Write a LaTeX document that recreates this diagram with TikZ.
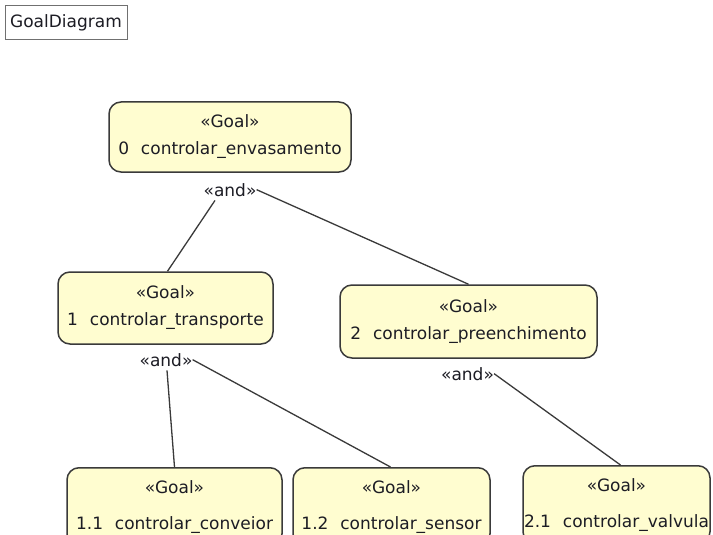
\documentclass[tikz,border=0pt]{standalone}
\usepackage{fontspec}
\setmainfont{DejaVu Sans}
\usetikzlibrary{calc}
\definecolor{goalfill}{RGB}{255,253,208}
\definecolor{goalline}{RGB}{58,58,58}
\definecolor{inktext}{RGB}{28,28,36}
\definecolor{framegray}{RGB}{112,112,112}
\tikzset{
  goal/.style={draw=goalline, fill=goalfill, line width=1.5pt, rounded corners=12pt,
    align=center, text=inktext, inner sep=0pt,
    font=\fontsize{17}{27}\selectfont},
  leafgoal/.style={goal, font=\fontsize{17}{36}\selectfont, anchor=north, minimum height=78pt},
  andlabel/.style={inner sep=0pt, text=inktext, anchor=base, font=\fontsize{17}{20}\selectfont},
  link/.style={draw=goalline, line width=1.3pt},
  titlebox/.style={draw=framegray, fill=white, line width=1pt, inner sep=0pt,
    minimum width=122pt, minimum height=34pt, font=\fontsize{17}{20}\selectfont, text=inktext}
}
\begin{document}
\begin{tikzpicture}[x=1pt, y=-1pt]
  \clip (0,0) rectangle (713,535);
  \fill[white] (0,0) rectangle (713,535);

  % diagram name
  \node[titlebox] (title) at (66,23) {GoalDiagram};

  % goal tree
  \node[goal, minimum width=242pt, minimum height=70pt] (n0) at (230,137)
    {«Goal»\\0\hspace{0.7em}controlar\_envasamento};
  \node[goal, minimum width=215pt, minimum height=72pt] (n1) at (165.5,308)
    {«Goal»\\1\hspace{0.7em}controlar\_transporte};
  \node[goal, minimum width=257pt, minimum height=73pt] (n2) at (468.5,321.5)
    {«Goal»\\2\hspace{0.7em}controlar\_preenchimento};
  \node[leafgoal, minimum width=215pt] (n11) at (174.5,467)
    {«Goal»\\1.1\hspace{0.7em}controlar\_conveior};
  \node[leafgoal, minimum width=197pt] (n12) at (391.5,467)
    {«Goal»\\1.2\hspace{0.7em}controlar\_sensor};
  \node[leafgoal, minimum width=187pt] (n21) at (616.5,465)
    {«Goal»\\2.1\hspace{0.7em}controlar\_valvula};

  % refinement labels
  \node[andlabel] (and0) at (230,196) {«and»};
  \node[andlabel] (and1) at (166,366) {«and»};
  \node[andlabel] (and2) at (467.5,380) {«and»};

  % refinement links
  \draw[link] ($(and0.south)+(-15,4)$) -- ($(n1.north)+(2,0)$);
  \draw[link] (and0.east) -- (n2.north);
  \draw[link] ($(and1.south)+(1,4)$) -- (n11.north);
  \draw[link] (and1.east) -- ($(n12.north)+(-1,0)$);
  \draw[link] (and2.east) -- ($(n21.north)+(4,0)$);
\end{tikzpicture}
\end{document}
